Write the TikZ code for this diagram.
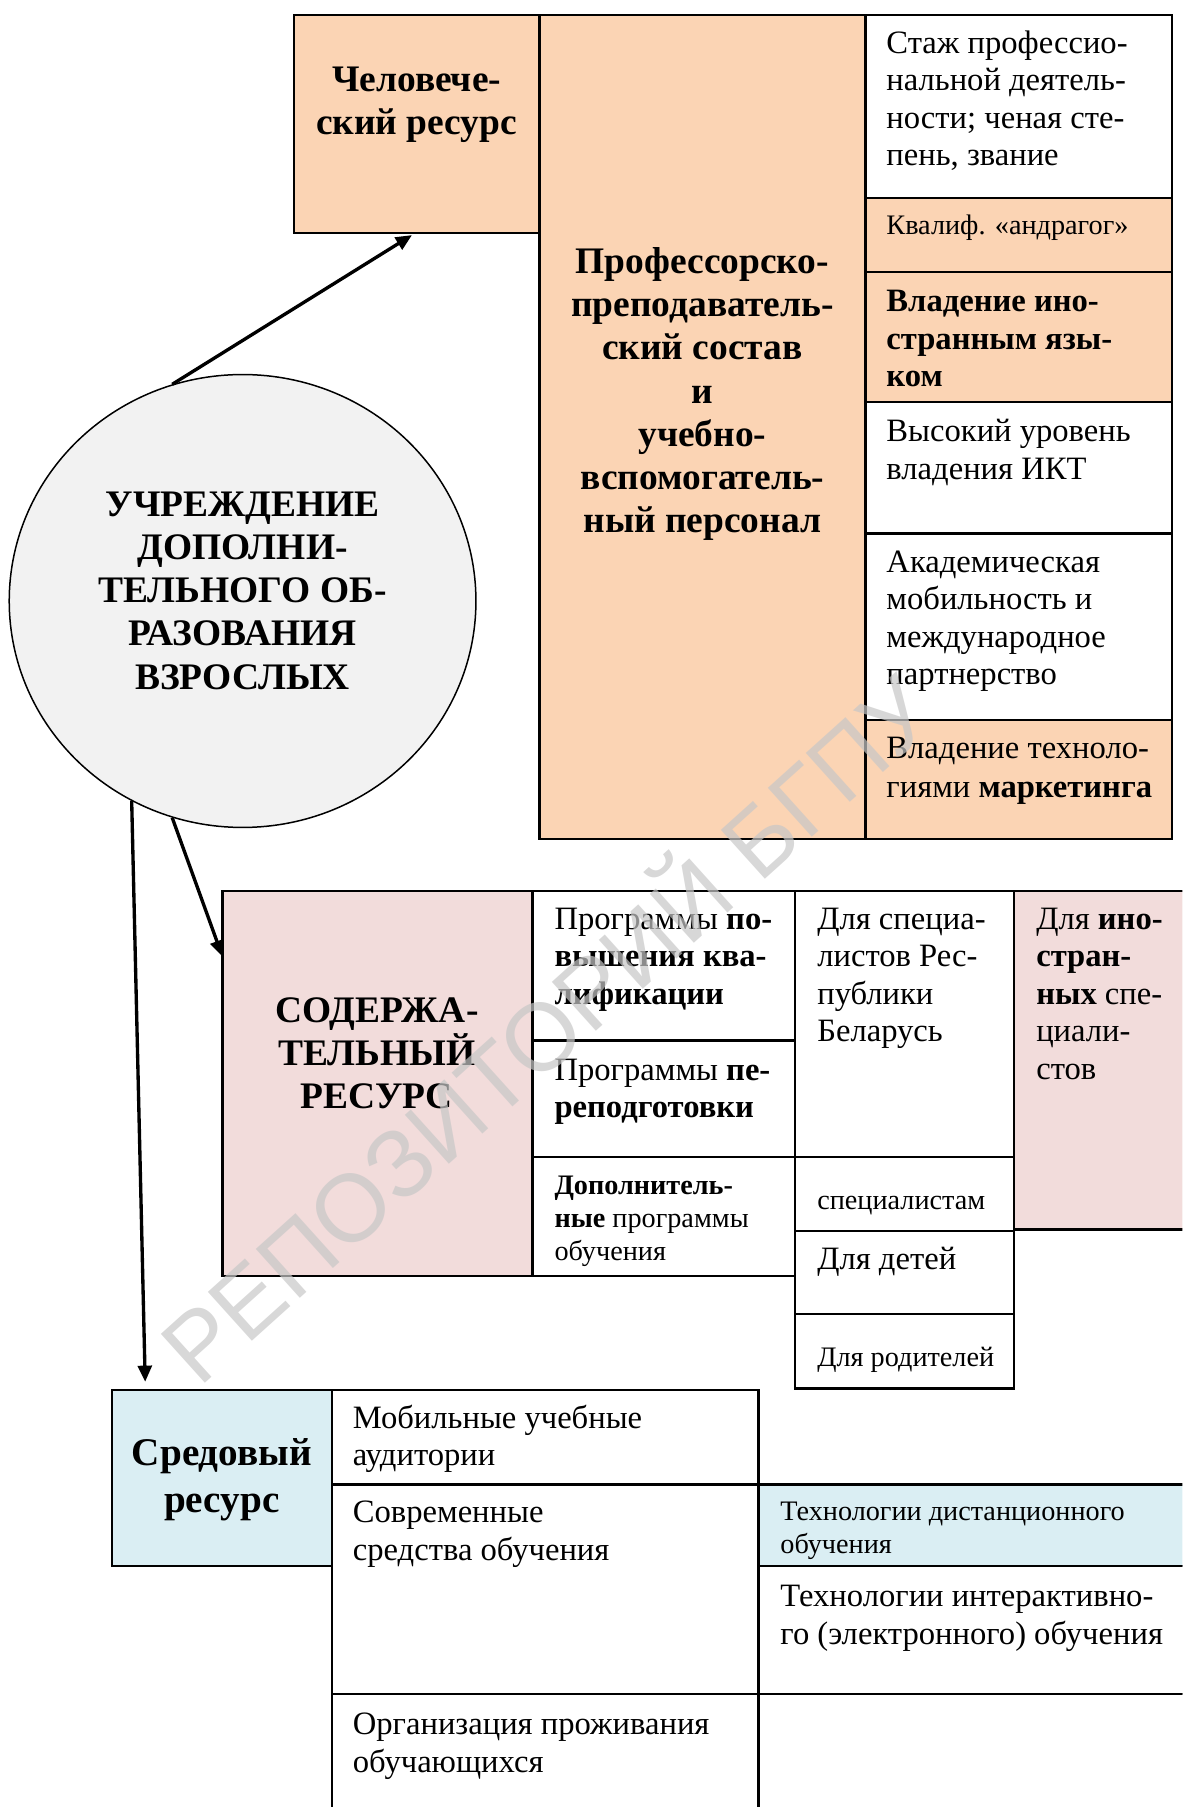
\documentclass[tikz,border=0pt]{standalone}
\usepackage{fontspec}
\setmainfont{Liberation Serif}
\newfontfamily\wmfont{Liberation Sans}
\usetikzlibrary{arrows.meta,shapes.geometric}
\definecolor{peach}{HTML}{FBD4B4}
\definecolor{pinkc}{HTML}{F2DCDB}
\definecolor{bluec}{HTML}{DAEEF3}
\definecolor{grayc}{HTML}{F2F2F2}
\newcommand\fhead{\fontsize{32.5}{37.5}\selectfont\bfseries}
\newcommand\fsred{\fontsize{34}{40}\selectfont\bfseries}
\newcommand\fbody{\fontsize{28.3}{32.5}\selectfont}
\newcommand\fsmall{\fontsize{24.5}{28.5}\selectfont}
\newcommand\st{\rule{0pt}{0.75em}}
\tikzset{
  cellbox/.style={draw, line width=2.1pt, anchor=north west, inner sep=0pt, outer sep=0pt},
  txt/.style={anchor=north west, inner sep=0pt, align=left, font=\fbody},
  stxt/.style={anchor=north west, inner sep=0pt, align=left, font=\fsmall},
  head/.style={anchor=center, inner sep=0pt, align=center, font=\fhead},
  arr/.style={line width=2.9pt, -{Triangle[length=14pt,width=12pt]}}
}
\begin{document}
\begin{tikzpicture}[x=1pt,y=-1pt]
\useasboundingbox (0,0) rectangle (1026,1568);
\clip (0,0) rectangle (1026,1568);

% ---------- top block ----------
\node[cellbox, fill=peach, minimum width=213pt, minimum height=189pt] (human) at (255,13) {};
\node[head] (humanT) at (361.5,91) {Человече-\\ский ресурс};
\node[cellbox, fill=peach, minimum width=283pt, minimum height=715pt] (pps) at (468,13) {};
\node[head] (ppsT) at (609.5,342) {Профессорско-\\преподаватель-\\ский состав\\и\\учебно-\\вспомогатель-\\ный персонал};

\node[cellbox, fill=white, minimum width=266pt, minimum height=159pt] (r1) at (751,13) {};
\node[txt] (r1T) at (769,25) {\st Стаж профессио-\\нальной деятель-\\ности; ченая сте-\\пень, звание};
\node[cellbox, fill=peach, minimum width=266pt, minimum height=64pt] (r2) at (751,172) {};
\node[stxt] (r2T) at (769,185) {\st Квалиф. «андрагог»};
\node[cellbox, fill=peach, minimum width=266pt, minimum height=113pt] (r3) at (751,236) {};
\node[txt, font=\fbody\bfseries] (r3T) at (769,249) {\st Владение ино-\\странным язы-\\ком};
\node[cellbox, fill=white, minimum width=266pt, minimum height=114pt] (r4) at (751,349) {};
\node[txt] (r4T) at (769,362) {\st Высокий уровень\\владения ИКТ};
\node[cellbox, fill=white, minimum width=266pt, minimum height=162pt] (r5) at (751,463) {};
\node[txt] (r5T) at (769,475) {\st Академическая\\мобильность и\\международное\\партнерство};
\node[cellbox, fill=peach, minimum width=266pt, minimum height=103pt] (r6) at (751,625) {};
\node[txt, font=\fontsize{28.3}{34}\selectfont] (r6T) at (769,637) {\st Владение техноло-\\гиями \textbf{маркетинга}};

% ---------- central ellipse ----------
\node[ellipse, draw, line width=1.3pt, fill=grayc, minimum width=405pt, minimum height=393pt, inner sep=0pt] (circ) at (210.5,521.5) {};
\node[head] (circT) at (210.5,512.5) {УЧРЕЖДЕНИЕ\\ДОПОЛНИ-\\ТЕЛЬНОГО ОБ-\\РАЗОВАНИЯ\\ВЗРОСЛЫХ};

% ---------- content block ----------
\node[cellbox, fill=pinkc, minimum width=269pt, minimum height=334pt] (cont) at (193,773) {};
\node[head] (contT) at (327,914) {СОДЕРЖА-\\ТЕЛЬНЫЙ\\РЕСУРС};
\node[cellbox, fill=white, minimum width=228pt, minimum height=130pt] (c2a) at (462,773) {};
\node[txt] (c2aT) at (481,785) {\st Программы \textbf{по-}\\\hbox to 184pt{\textbf{вышения}\hfill\textbf{ква-}}\\\textbf{лификации}};
\node[cellbox, fill=white, minimum width=228pt, minimum height=101pt] (c2b) at (462,903) {};
\node[txt] (c2bT) at (481,916) {\st Программы \textbf{пе-}\\\textbf{реподготовки}};
\node[cellbox, fill=white, minimum width=228pt, minimum height=103pt] (c2c) at (462,1004) {};
\node[stxt] (c2cT) at (481,1018) {\st \textbf{Дополнитель-}\\\textbf{ные} программы\\обучения};
\node[cellbox, fill=white, minimum width=190pt, minimum height=231pt] (c3a) at (690,773) {};
\node[txt] (c3aT) at (709,785) {\st Для специа-\\листов Рес-\\публики\\Беларусь};
\node[cellbox, fill=white, minimum width=190pt, minimum height=64pt] (c3b) at (690,1004) {};
\node[stxt] (c3bT) at (709,1031) {\st специалистам};
\node[cellbox, fill=white, minimum width=190pt, minimum height=72pt] (c3c) at (690,1068) {};
\node[txt] (c3cT) at (709,1080) {\st Для детей};
\node[cellbox, fill=white, minimum width=190pt, minimum height=65pt] (c3d) at (690,1140) {};
\node[stxt] (c3dT) at (709,1167) {\st Для родителей};
\node[cellbox, fill=pinkc, minimum width=170pt, minimum height=294pt] (c4) at (880,773) {};
\node[txt] (c4T) at (899,785) {\st Для \textbf{ино-}\\\textbf{стран-}\\\textbf{ных} спе-\\циали-\\стов};

% ---------- environment block ----------
\node[cellbox, fill=bluec, minimum width=191pt, minimum height=153pt] (sred) at (97,1206) {};
\node[head, font=\fsred] (sredT) at (192.5,1284) {Средовый\\ресурс};
\node[cellbox, fill=white, minimum width=370pt, minimum height=82pt] (s2a) at (288,1206) {};
\node[txt] (s2aT) at (306,1218) {\st Мобильные учебные\\аудитории};
\node[cellbox, fill=white, minimum width=370pt, minimum height=182pt] (s2b) at (288,1288) {};
\node[txt] (s2bT) at (306,1300) {\st Современные\\средства обучения};
\node[cellbox, fill=white, minimum width=370pt, minimum height=150pt] (s2c) at (288,1470) {};
\node[txt] (s2cT) at (306,1484) {\st Организация проживания\\обучающихся};
\node[cellbox, fill=bluec, minimum width=390pt, minimum height=71pt] (s3a) at (658,1288) {};
\node[stxt] (s3aT) at (677,1301) {\st Технологии дистанционного\\обучения};
\node[cellbox, fill=white, minimum width=390pt, minimum height=111pt] (s3b) at (658,1359) {};
\node[txt] (s3bT) at (677,1373) {\st Технологии интерактивно-\\го (электронного) обучения};
\node[cellbox, fill=white, minimum width=390pt, minimum height=150pt] (s3c) at (658,1470) {};

% ---------- arrows ----------
\draw[arr] (circ.108) -- ([xshift=-4pt,yshift=-2pt]human.south);
\draw[arr] (circ.252) -- ([yshift=-57pt]cont.north west);
\draw[arr] (circ.241.4) -- ([xshift=29pt,yshift=7pt]sred.north west);

% ---------- watermark ----------
\node[rotate=42, text=black!22, opacity=0.7, font=\wmfont\fontsize{83}{83}\selectfont, inner sep=0pt] (wm) at (470,888) {РЕПОЗИТОРИЙ БГПУ};
\end{tikzpicture}
\end{document}
